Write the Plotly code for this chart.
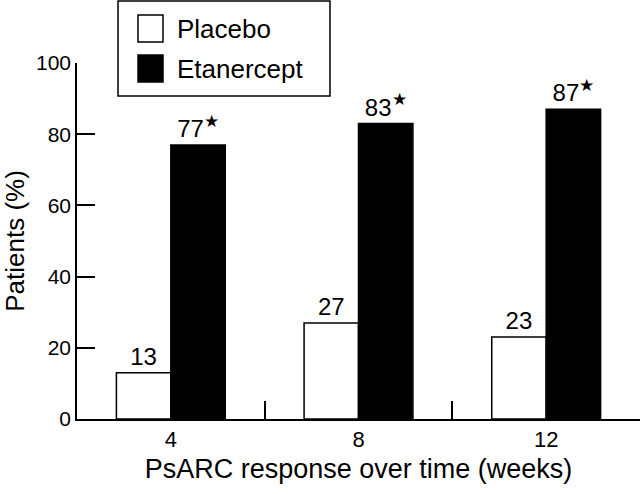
import plotly.graph_objects as go

weeks = ["4", "8", "12"]
placebo = [13, 27, 23]
etanercept = [77, 83, 87]
series_names = ["Placebo", "Etanercept"]
y_ticks = [0, 20, 40, 60, 80, 100]

FONT = "Liberation Sans, Arial, Helvetica, sans-serif"

placebo_text = [str(v) for v in placebo]
etan_text = [f"{v}<sup>★</sup>" for v in etanercept]

fig = go.Figure()
fig.add_trace(go.Bar(
    x=weeks, y=placebo, name=series_names[0], text=placebo_text,
    textposition="outside", cliponaxis=False,
    marker=dict(color="white", line=dict(color="black", width=1.5)),
    textfont=dict(family=FONT, size=24, color="black"),
    showlegend=False,
))
fig.add_trace(go.Bar(
    x=weeks, y=etanercept, name=series_names[1], text=etan_text,
    textposition="outside", cliponaxis=False,
    marker=dict(color="black", line=dict(color="black", width=1.5)),
    textfont=dict(family=FONT, size=24, color="black"),
    showlegend=False,
))

# manual legend box (large swatches, as in the reference)
shapes = [
    dict(type="rect", xref="paper", yref="paper", x0=(118-77)/563, x1=(330-77)/563,
         y0=(419-96)/356, y1=(419-1)/356, line=dict(color="black", width=1.5), fillcolor="white"),
    dict(type="rect", xref="paper", yref="paper", x0=(138-77)/563, x1=(163-77)/563,
         y0=(419-42)/356, y1=(419-15)/356, line=dict(color="black", width=1.5), fillcolor="white"),
    dict(type="rect", xref="paper", yref="paper", x0=(138-77)/563, x1=(163-77)/563,
         y0=(419-82)/356, y1=(419-55)/356, line=dict(color="black", width=1.5), fillcolor="black"),
]
annotations = [
    dict(xref="paper", yref="paper", x=(175-77)/563, y=(419-29)/356, text=series_names[0],
         showarrow=False, xanchor="left", yanchor="middle", font=dict(family=FONT, size=26, color="black")),
    dict(xref="paper", yref="paper", x=(175-77)/563, y=(419-69)/356, text=series_names[1],
         showarrow=False, xanchor="left", yanchor="middle", font=dict(family=FONT, size=26, color="black")),
]

fig.update_layout(
    width=640, height=494,
    margin=dict(l=77, r=0, t=63, b=75),
    paper_bgcolor="white", plot_bgcolor="white",
    barmode="group", bargap=0.42, bargroupgap=0,
    font=dict(family=FONT, color="black"),
    shapes=shapes, annotations=annotations,
    showlegend=False,
)
fig.update_xaxes(
    type="category", tickson="boundaries", ticks="inside", ticklen=18, tickwidth=1.5,
    tickcolor="black", showline=True, linecolor="black", linewidth=1.5,
    showgrid=False, tickfont=dict(family=FONT, size=22),
    title=dict(text="PsARC response over time (weeks)", font=dict(family=FONT, size=27), standoff=8),
)
fig.update_yaxes(
    range=[0, 100], tickvals=y_ticks, ticks="inside", ticklen=18, tickwidth=1.5,
    tickcolor="black", showline=True, linecolor="black", linewidth=1.5,
    showgrid=False, zeroline=False, tickfont=dict(family=FONT, size=21),
    title=dict(text="Patients (%)", font=dict(family=FONT, size=26), standoff=6),
)

fig.write_html("out.html", config={"displayModeBar": False},
               post_script="document.body.style.margin='0';document.body.style.overflow='hidden';")
